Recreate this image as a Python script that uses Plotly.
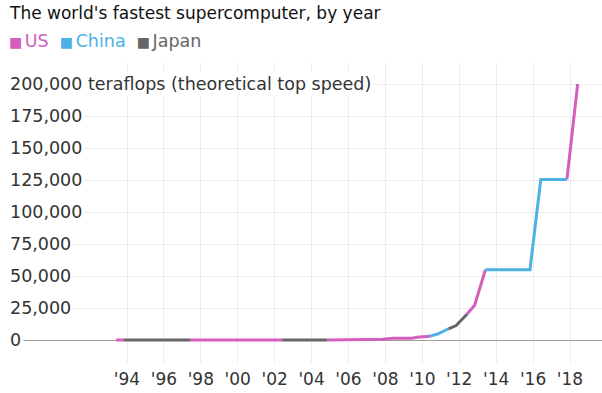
import plotly.graph_objects as go

# ---- data (TOP500 lists, fastest machine by theoretical peak, teraflops) ----
list_year = [1993, 1993, 1994, 1994, 1995, 1995, 1996, 1996, 1997, 1997,
             1998, 1998, 1999, 1999, 2000, 2000, 2001, 2001, 2002, 2002,
             2003, 2003, 2004, 2004, 2005, 2005, 2006, 2006, 2007, 2007,
             2008, 2008, 2009, 2009, 2010, 2010, 2011, 2011, 2012, 2012,
             2013, 2013, 2014, 2014, 2015, 2015, 2016, 2016, 2017, 2017,
             2018]
list_month = [6, 11] * 25 + [6]
peak_tflops = [0.131, 0.236, 0.236, 0.236, 0.236, 0.281, 0.307, 0.614, 1.453, 1.830,
               1.830, 1.830, 3.154, 3.154, 3.207, 12.288, 12.288, 12.288, 40.96, 40.96,
               40.96, 40.96, 40.96, 91.75, 183.5, 367.0, 367.0, 367.0, 367.0, 596.4,
               1375.8, 1456.7, 1456.7, 2331, 2984, 4701, 8774, 11280, 20133, 27113,
               54902, 54902, 54902, 54902, 54902, 54902, 125436, 125436, 125436, 125436,
               200000]
holder = (["US", "Japan"] + ["Japan"] * 6 + ["US"] * 10 + ["Japan"] * 5 + ["US"] * 11
          + ["China"] * 2 + ["Japan"] * 2 + ["US"] * 2 + ["China"] * 10 + ["US"])

countries = ["US", "China", "Japan"]
colours = {"US": "#d35ebe", "China": "#4cb2e6", "Japan": "#666666"}

y_ticks = [0, 25000, 50000, 75000, 100000, 125000, 150000, 175000, 200000]
y_unit = " teraflops (theoretical top speed)"
x_ticks = [1994, 1996, 1998, 2000, 2002, 2004, 2006, 2008, 2010, 2012, 2014, 2016, 2018]
x_tick_labels = ["'94", "'96", "'98", "'00", "'02", "'04", "'06", "'08", "'10",
                 "'12", "'14", "'16", "'18"]

title = "The world's fastest supercomputer, by year"

# ---- build ----
t = [y + (m - 1) / 12 for y, m in zip(list_year, list_month)]
# each segment drawn in the colour of the record holder it leaves; the final rise in US colour
seg_owner = holder[:-2] + [holder[-1]]

FONT = "DejaVu Sans"
fig = go.Figure()
for c in countries:
    xs, ys = [], []
    for i, own in enumerate(seg_owner):
        if own != c:
            continue
        if xs and xs[-1] == t[i] and ys[-1] == peak_tflops[i]:
            xs.append(t[i + 1]); ys.append(peak_tflops[i + 1])
        else:
            if xs:
                xs.append(None); ys.append(None)
            xs += [t[i], t[i + 1]]; ys += [peak_tflops[i], peak_tflops[i + 1]]
    fig.add_trace(go.Scatter(x=xs, y=ys, mode="lines", name=c, showlegend=False,
                             line=dict(color=colours[c], width=3), connectgaps=False,
                             hoverinfo="skip"))

W, H = 602, 393
PLOT_LEFT, PLOT_TOP, PLOT_BOTTOM = 8, 63, 363          # page pixels
ML, MT, MB = PLOT_LEFT, PLOT_TOP, H - PLOT_BOTTOM

def py(p):
    return (PLOT_BOTTOM - p) / (PLOT_BOTTOM - PLOT_TOP)

def px(p):
    return (p - ML) / (W - ML)

ann = []
ann.append(dict(text=title, x=px(7), y=py(13), xref="paper", yref="paper",
                xanchor="left", yanchor="middle", showarrow=False,
                font=dict(family=FONT, size=17, color="#111111")))
leg = "&nbsp;&nbsp;".join(
    f"<span style='color:{colours[c]}'><span style='font-size:14px'>■</span>"
    f"<span style='font-size:8px'>&nbsp;</span>{c}</span>"
    for c in countries)
ann.append(dict(text=leg, x=px(7), y=py(41), xref="paper", yref="paper",
                xanchor="left", yanchor="middle", showarrow=False,
                font=dict(family=FONT, size=17.5)))
for v in y_ticks:
    txt = f"{v:,}" + (y_unit if v == y_ticks[-1] else "")
    ann.append(dict(text=txt, x=px(7), y=v, xref="paper", yref="y",
                    xanchor="left", yanchor="middle", showarrow=False,
                    bgcolor="white", borderpad=2,
                    font=dict(family=FONT, size=17.5, color="#333333")))

px_per_year = (570 - 127) / 24
fig.update_layout(
    width=W, height=H,
    margin=dict(l=ML, r=0, t=MT, b=MB),
    paper_bgcolor="white", plot_bgcolor="white",
    showlegend=False,
    annotations=ann,
    xaxis=dict(range=[1994 - (127 - ML) / px_per_year, 2018 + (602 - 570) / px_per_year],
               tickvals=x_ticks, ticktext=x_tick_labels, showgrid=True,
               gridcolor="#ececec", gridwidth=1, zeroline=False, showline=False,
               ticks="", ticklabelstandoff=4,
               tickfont=dict(family=FONT, size=17, color="#333333"),
               fixedrange=True),
    yaxis=dict(range=[-(23 / 256) * 200000, 200000 + (21 / 256) * 200000],
               tickvals=y_ticks, showticklabels=False, showgrid=True,
               gridcolor="#ececec", gridwidth=1, zeroline=True,
               zerolinecolor="#a0a0a0", zerolinewidth=1, showline=False,
               fixedrange=True),
)

fig.write_html("out.html", config={"displayModeBar": False},
               post_script="document.body.style.margin='0';"
                           "document.body.style.overflow='hidden';")
